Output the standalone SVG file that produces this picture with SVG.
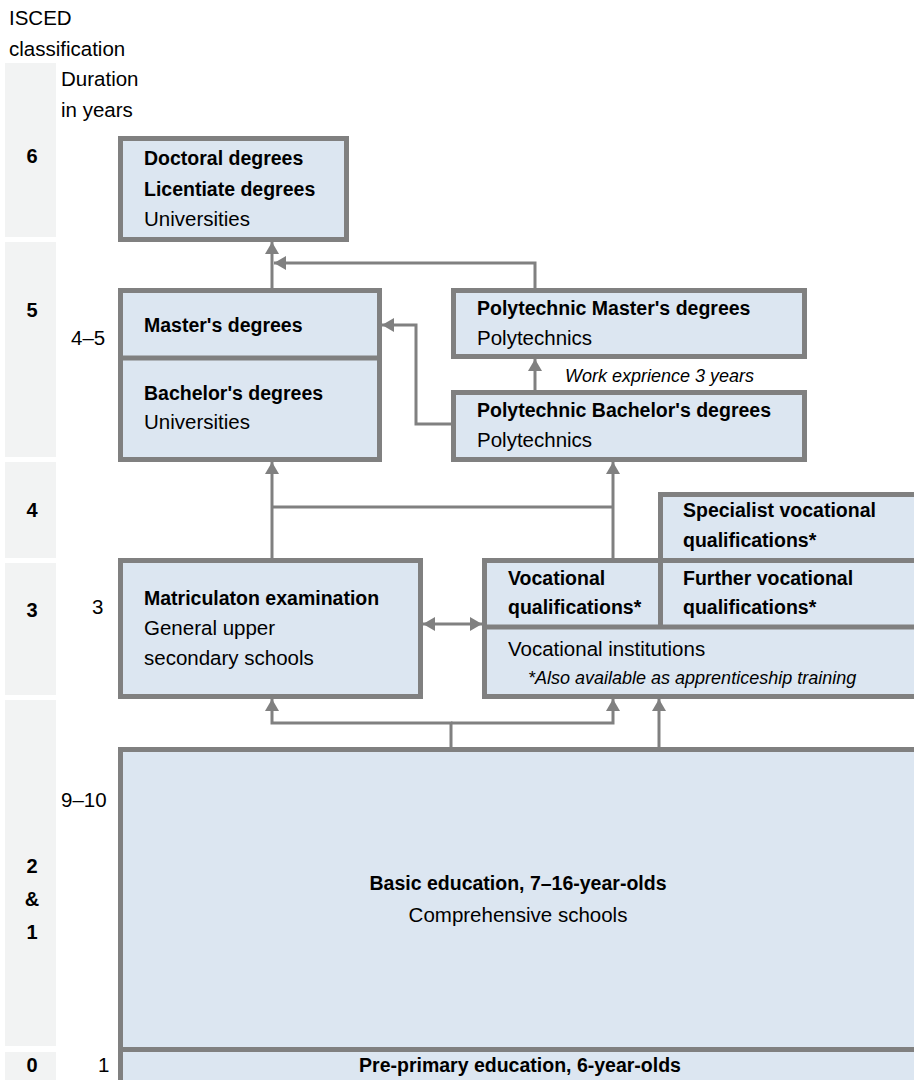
<svg xmlns="http://www.w3.org/2000/svg" width="914" height="1080" viewBox="0 0 914 1080">
<style>
text{font-family:"Liberation Sans",Arial,sans-serif;fill:#000}
.r{font-size:20.5px}
.b{font-size:19.5px;font-weight:bold}
.i{font-size:18px;font-style:italic}
.n{font-size:20px;font-weight:bold}
.c{text-anchor:middle}
.band{fill:#F2F3F3}
.box{fill:#DCE6F1;stroke:#808080;stroke-width:5}
.div{stroke:#808080;stroke-width:5;fill:none}
.con{stroke:#808080;stroke-width:3;fill:none}
</style>
<defs>
<marker id="ah" markerUnits="userSpaceOnUse" markerWidth="14" markerHeight="14" refX="12" refY="7" orient="auto-start-reverse" viewBox="0 0 14 14">
<path d="M0,0 L12,7 L0,14 z" fill="#808080"/>
</marker>
</defs>
<rect width="914" height="1080" fill="#fff"/>
<g id="axis">
<rect class="band" x="5" y="63" width="51" height="174"/>
<rect class="band" x="5" y="242" width="51" height="215"/>
<rect class="band" x="5" y="462" width="51" height="96"/>
<rect class="band" x="5" y="563" width="51" height="132"/>
<rect class="band" x="5" y="700" width="51" height="346"/>
<rect class="band" x="5" y="1052" width="51" height="28"/>
<text class="r" x="9" y="25">ISCED</text>
<text class="r" x="9" y="56">classification</text>
<text class="r" x="61" y="86">Duration</text>
<text class="r" x="61" y="117">in years</text>
<text class="n c" x="32" y="163">6</text>
<text class="n c" x="32" y="317">5</text>
<text class="n c" x="32" y="517">4</text>
<text class="n c" x="32" y="617">3</text>
<text class="n c" x="32" y="873">2</text>
<text class="n c" x="32" y="906">&amp;</text>
<text class="n c" x="32" y="939">1</text>
<text class="n c" x="32" y="1072">0</text>
<text class="r" x="71" y="345">4–5</text>
<text class="r" x="92" y="614">3</text>
<text class="r" x="61" y="807">9–10</text>
<text class="r" x="98" y="1072">1</text>
</g>
<g id="connectors">
<path class="con" d="M272,288 L272,242" marker-end="url(#ah)"/>
<path class="con" d="M535,288 L535,263 L274,263" marker-end="url(#ah)"/>
<path class="con" d="M535,390 L535,359" marker-end="url(#ah)"/>
<path class="con" d="M451,424 L416,424 L416,325 L382,325" marker-end="url(#ah)"/>
<path class="con" d="M272,558 L272,462" marker-end="url(#ah)"/>
<path class="con" d="M272,507 L613,507"/>
<path class="con" d="M613,558 L613,462" marker-end="url(#ah)"/>
<path class="con" d="M423,624 L482,624" marker-start="url(#ah)" marker-end="url(#ah)"/>
<path class="con" d="M451,747 L451,723 L272,723 L272,699" marker-end="url(#ah)"/>
<path class="con" d="M451,723 L613,723 L613,699" marker-end="url(#ah)"/>
<path class="con" d="M659,747 L659,699" marker-end="url(#ah)"/>
</g>
<g id="doctoral">
<rect class="box" x="120.5" y="138.5" width="226" height="101"/>
<text class="b" x="144" y="165">Doctoral degrees</text>
<text class="b" x="144" y="196">Licentiate degrees</text>
<text class="r" x="144" y="226">Universities</text>
</g>
<g id="masters-bachelors">
<rect class="box" x="120.5" y="290.5" width="259" height="169"/>
<line class="div" x1="120.5" y1="358" x2="379.5" y2="358"/>
<text class="b" x="144" y="332">Master's degrees</text>
<text class="b" x="144" y="400">Bachelor's degrees</text>
<text class="r" x="144" y="429">Universities</text>
</g>
<g id="poly-master">
<rect class="box" x="453.5" y="290.5" width="351" height="66"/>
<text class="b" x="477" y="315">Polytechnic Master's degrees</text>
<text class="r" x="477" y="345">Polytechnics</text>
</g>
<text class="i" x="565" y="382">Work exprience 3 years</text>
<g id="poly-bachelor">
<rect class="box" x="453.5" y="392.5" width="351" height="67"/>
<text class="b" x="477" y="417">Polytechnic Bachelor's degrees</text>
<text class="r" x="477" y="447">Polytechnics</text>
</g>
<g id="matriculation">
<rect class="box" x="120.5" y="560.5" width="300" height="136"/>
<text class="b" x="144" y="605">Matriculaton examination</text>
<text class="r" x="144" y="635">General upper</text>
<text class="r" x="144" y="665">secondary schools</text>
</g>
<g id="specialist">
<rect class="box" x="660.5" y="494.5" width="270" height="66"/>
<text class="b" x="683" y="517">Specialist vocational</text>
<text class="b" x="683" y="547">qualifications*</text>
</g>
<g id="vocational">
<rect class="box" x="484.5" y="560.5" width="446" height="136"/>
<line class="div" x1="484.5" y1="627" x2="930" y2="627"/>
<line class="div" x1="660.5" y1="560" x2="660.5" y2="627"/>
<text class="b" x="508" y="585">Vocational</text>
<text class="b" x="508" y="614">qualifications*</text>
<text class="b" x="683" y="585">Further vocational</text>
<text class="b" x="683" y="614">qualifications*</text>
<text class="r" x="508" y="656">Vocational institutions</text>
<text class="i" x="528" y="684">*Also available as apprenticeship training</text>
</g>
<g id="basic">
<rect class="box" x="120.5" y="749.5" width="810" height="300"/>
<text class="b c" x="518" y="890">Basic education, 7–16-year-olds</text>
<text class="r c" x="518" y="922">Comprehensive schools</text>
</g>
<g id="pre-primary">
<rect class="box" x="120.5" y="1049.5" width="810" height="50"/>
<text class="b c" x="520" y="1072">Pre-primary education, 6-year-olds</text>
</g>
</svg>
